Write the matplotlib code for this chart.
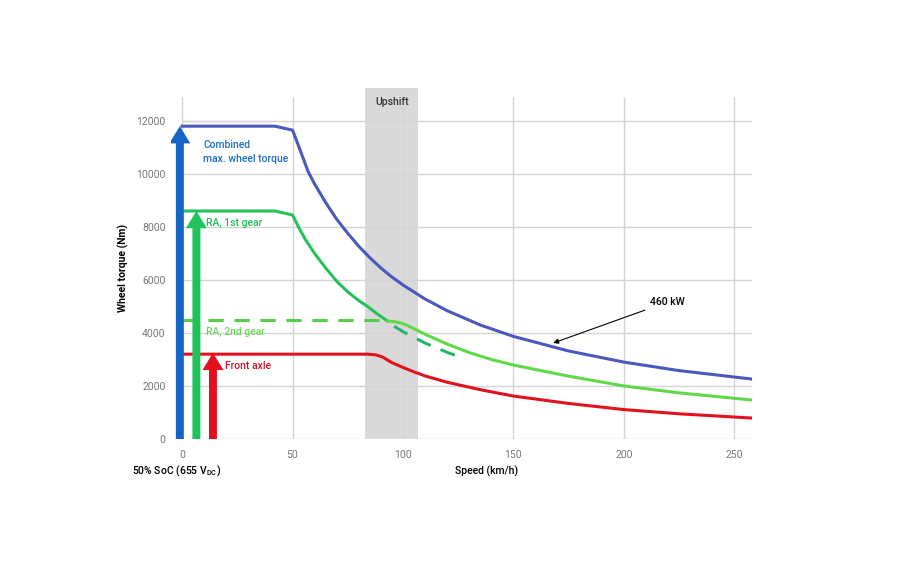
import numpy as np
import matplotlib.pyplot as plt
from matplotlib.patches import FancyArrow

plt.rcParams['font.family'] = ['Roboto', 'DejaVu Sans']

# Combined max. wheel torque (blue)
v_comb = [0, 42, 50, 53, 57, 60, 65, 70, 75, 80, 85, 90, 95, 100, 110, 120, 135, 150, 175, 200, 225, 258]
t_comb = [11800, 11800, 11650, 11000, 10100, 9620, 8920, 8290, 7760, 7270, 6840, 6450, 6110, 5810,
          5280, 4840, 4300, 3870, 3320, 2900, 2580, 2260]

# Rear axle, 1st gear (green)
v_ra1 = [0, 42, 50, 53, 56, 60, 65, 70, 75, 80, 84, 88, 93]
t_ra1 = [8600, 8600, 8450, 7950, 7500, 7000, 6450, 5950, 5550, 5220, 5000, 4740, 4450]

# Rear axle after upshift (light green)
v_ra1b = [93, 96, 99, 102, 106, 110, 120, 130, 140, 150, 175, 200, 225, 258]
t_ra1b = [4450, 4430, 4380, 4280, 4120, 3950, 3580, 3260, 3000, 2790, 2370, 2000, 1740, 1470]

# Rear axle, 2nd gear (dashed)
v_ra2 = [0, 93]
t_ra2 = [4500, 4500]
v_ra2b = [96, 100, 110, 120, 128]
t_ra2b = [4250, 4050, 3620, 3270, 3020]

# Front axle (red)
v_fa = [0, 84, 88, 91, 95, 100, 105, 110, 120, 135, 150, 175, 200, 225, 258]
t_fa = [3200, 3200, 3170, 3080, 2880, 2700, 2530, 2380, 2140, 1860, 1620, 1340, 1110, 950, 790]

upshift = [83, 107]
xticks = [0, 50, 100, 150, 200, 250]
yticks = [0, 2000, 4000, 6000, 8000, 10000, 12000]

fig = plt.figure(figsize=(9.05, 5.62), dpi=100)
ax = fig.add_axes([171/905, 1-439/562, 581/905, 342/562])
ax.set_xlim(-5, 258)
ax.set_ylim(0, 12900)

# grid
gc = '#d4d4d4'
ax.hlines(yticks, 0, 258, colors=gc, lw=1, zorder=1)
ax.vlines(xticks, 0, 12900, colors=gc, lw=1, zorder=1)

ax.add_patch(plt.Rectangle((upshift[0], 0), upshift[1]-upshift[0], 13250,
                           color='#d9d9d9', zorder=0, clip_on=False, lw=0))
ax.text(sum(upshift)/2, 12700, 'Upshift', ha='center', va='center', fontsize=7.5,
        color='#333333', fontweight='medium')

ax.plot(v_comb, t_comb, color='#4b58bd', lw=2.2, zorder=3, solid_joinstyle='round')
ax.plot(v_ra1, t_ra1, color='#25c25a', lw=2.2, zorder=3, solid_joinstyle='round')
ax.plot(v_ra1b, t_ra1b, color='#5fd94a', lw=2.2, zorder=3, solid_joinstyle='round')
ax.plot(v_ra2, t_ra2, color='#55cf48', lw=2.2, dashes=(5, 3.5), zorder=3)
ax.plot(v_ra2b, t_ra2b, color='#25b56e', lw=2.2, dashes=(5, 3.5), zorder=3)
ax.plot(v_fa, t_fa, color='#e3101e', lw=2.2, zorder=3, solid_joinstyle='round')

# vertical arrows
for x, top, c in [(-1, 11800, '#1565c6'), (6.5, 8600, '#1fc35a'), (14, 3250, '#e3101e')]:
    ax.add_patch(FancyArrow(x, 0, 0, top, width=3.6, head_width=9.5, head_length=650,
                            length_includes_head=True, color=c, lw=0, zorder=4))

fs = 7.5
ax.text(9.5, 11100, 'Combined', color='#1d6fc0', fontsize=fs, va='center', fontweight='medium')
ax.text(9.5, 10550, 'max. wheel torque', color='#1d6fc0', fontsize=fs, va='center', fontweight='medium')
ax.text(11, 8150, 'RA, 1st gear', color='#1fbf5a', fontsize=fs, va='center', fontweight='medium')
ax.text(11, 4050, 'RA, 2nd gear', color='#6ed65a', fontsize=fs, va='center', fontweight='medium')
ax.text(19.5, 2770, 'Front axle', color='#d8102a', fontsize=fs, va='center', fontweight='medium')

ax.annotate('460 kW', xy=(168, 3620), xytext=(212, 5170), fontsize=fs, va='center',
            fontweight='medium',
            arrowprops=dict(arrowstyle='-|>', color='black', lw=0.8, shrinkA=2, shrinkB=0))

ax.set_xticks(xticks)
ax.set_yticks(yticks)
ax.tick_params(length=0, labelsize=7.5, labelcolor='#777777')
ax.tick_params(axis='x', pad=8)
ax.tick_params(axis='y', pad=4)
for s in ax.spines.values():
    s.set_visible(False)

ax.set_ylabel('Wheel torque (Nm)', fontsize=7.5, fontweight='bold', labelpad=5)
fig.text(487/905, 1-471/562, 'Speed (km/h)', ha='center', va='center', fontsize=fs,
         fontweight='medium')
fig.text(132/905, 1-471/562, '50% SoC (655 V$_{\\mathregular{DC}}$)', ha='left', va='center',
         fontsize=fs, fontweight='medium')

fig.savefig('out.png', dpi=100)
